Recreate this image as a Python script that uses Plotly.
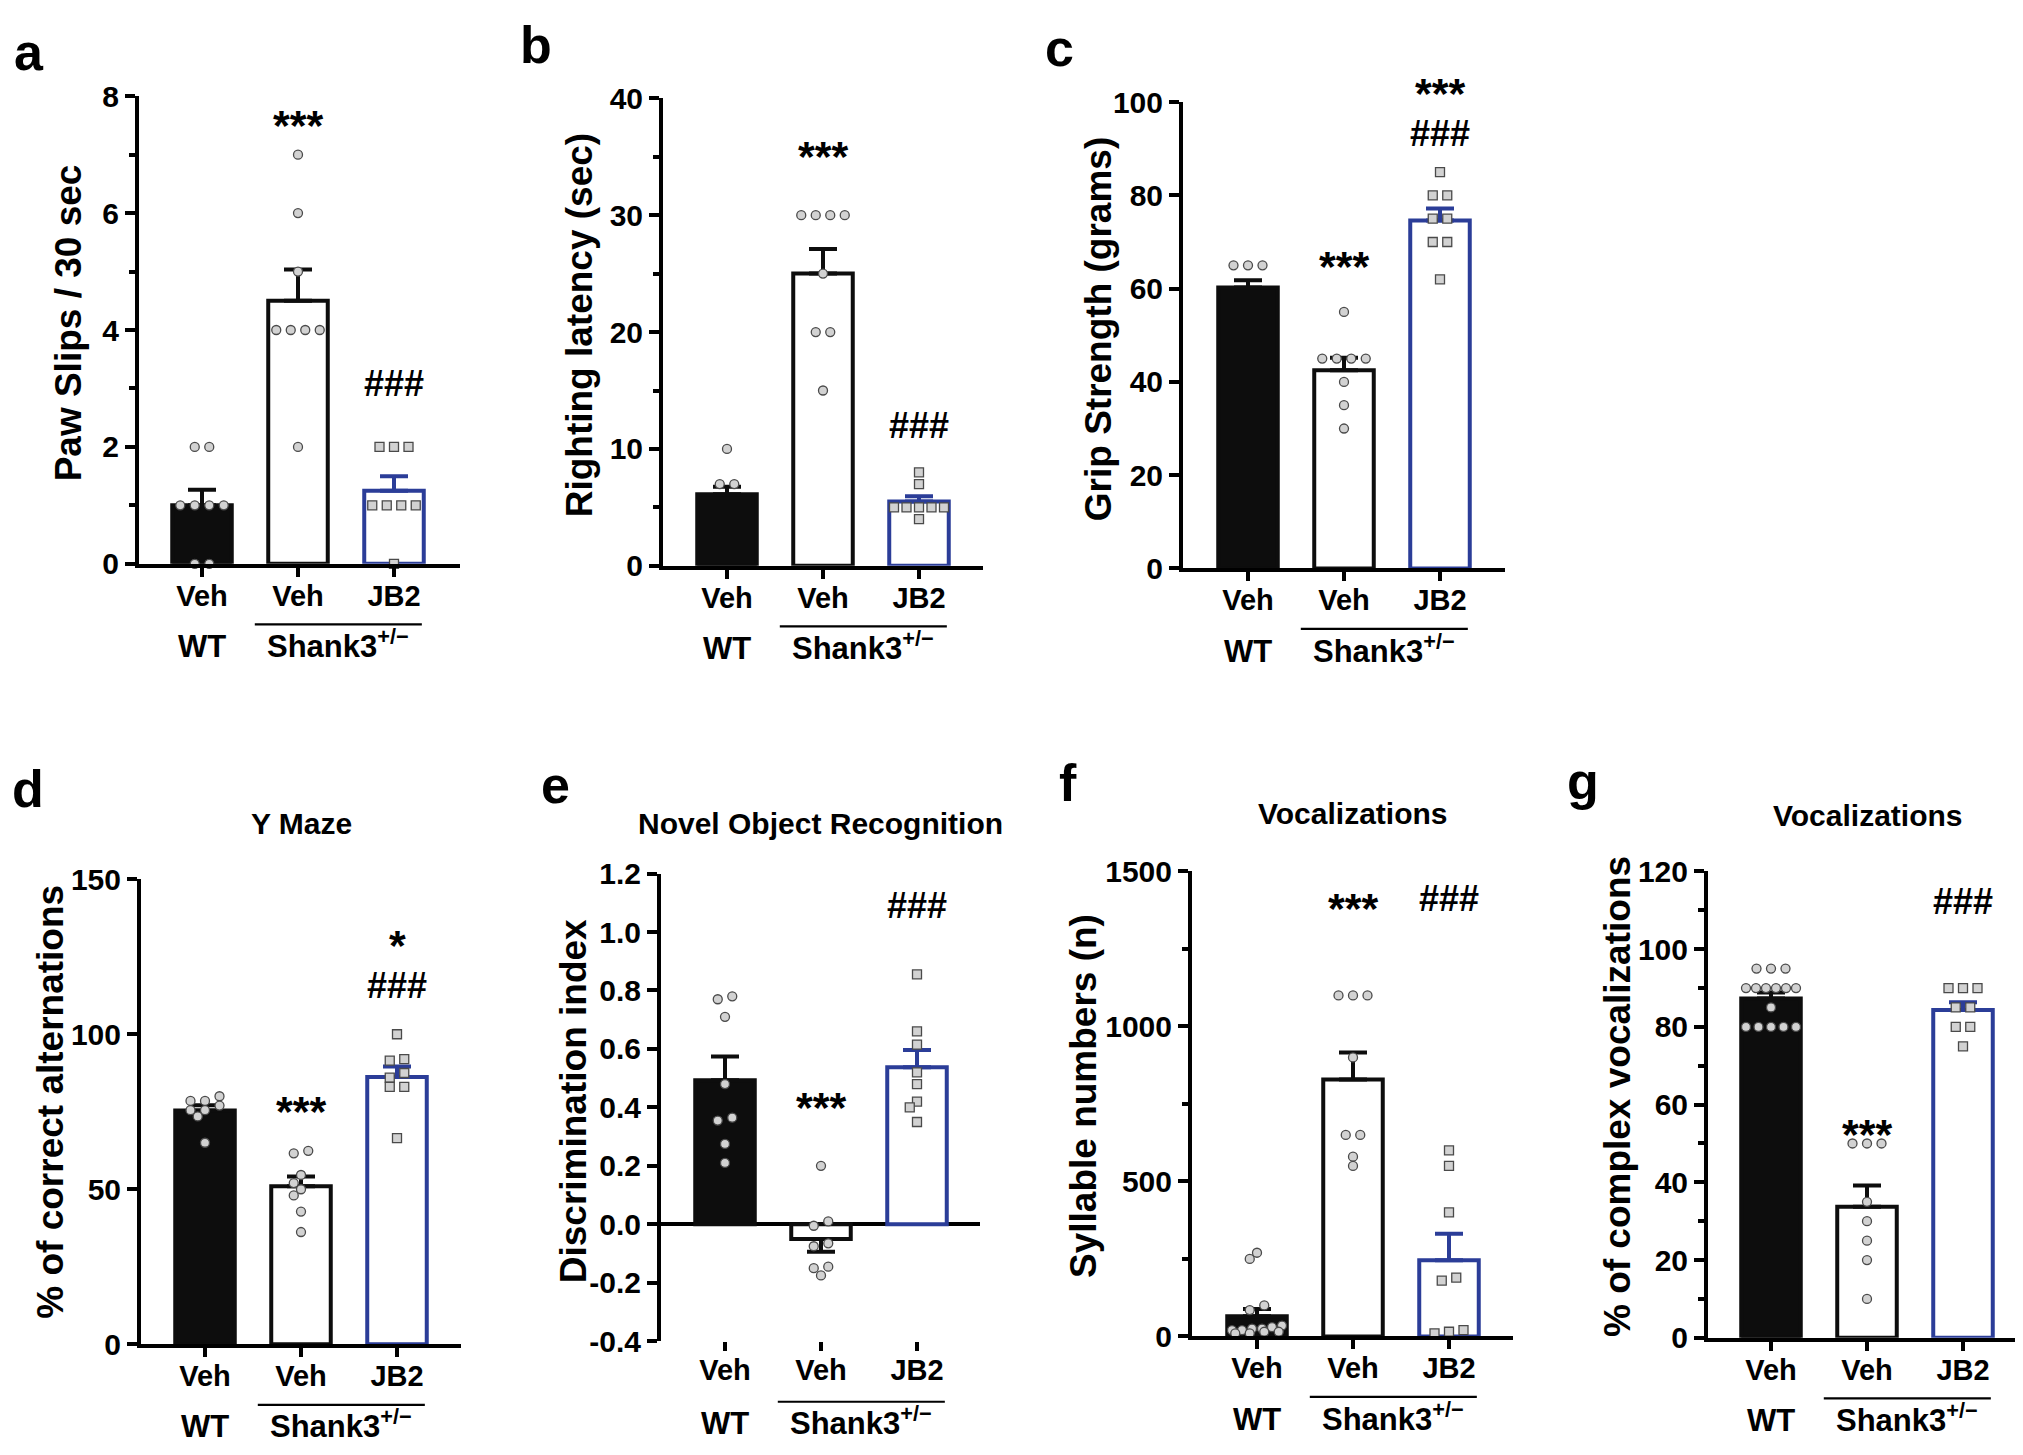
import math
import plotly.graph_objects as go

W, H = 2023, 1455
FONT = "Liberation Sans"
BLUE = "#2b3d98"
BLACK = "#0d0d0d"

# ---------------- data ----------------
categories = ["Veh", "Veh", "JB2"]
group_wt = "WT"
group_mut = "Shank3<sup>+/\u2212</sup>"

a_wt = [2, 2, 1, 1, 1, 1, 0, 0]
a_veh = [7, 6, 5, 4, 4, 4, 4, 2]
a_jb2 = [2, 2, 2, 1, 1, 1, 1, 0]

b_wt = [10, 7, 7, 5, 5, 5, 5, 5]
b_veh = [30, 30, 30, 30, 25, 20, 20, 15]
b_jb2 = [8, 7, 5, 5, 5, 5, 5, 4]

c_wt = [65, 65, 65, 60, 60, 57, 55, 55]
c_veh = [55, 45, 45, 45, 45, 40, 35, 30]
c_jb2 = [85, 80, 80, 75, 75, 70, 70, 62]

d_wt = [80, 78.5, 78.5, 77, 75.5, 75.5, 73.5, 65]
d_veh = [62.4, 61.6, 54.6, 52, 50, 48, 42.8, 36.2]
d_jb2 = [100, 92, 91.5, 87.5, 86, 83, 83, 66.5]

e_wt = [0.78, 0.77, 0.71, 0.48, 0.365, 0.355, 0.275, 0.21]
e_veh = [0.2, 0.01, -0.005, -0.065, -0.075, -0.145, -0.15, -0.175]
e_jb2 = [0.855, 0.66, 0.615, 0.52, 0.48, 0.42, 0.4, 0.35]

f_wt = [270, 250, 100, 85, 35, 30, 25, 25, 20, 20, 15, 15, 10, 10]
f_veh = [1100, 1100, 1100, 900, 650, 650, 580, 550]
f_jb2 = [600, 550, 400, 190, 180, 20, 15, 10]

g_wt = [95, 95, 95, 90, 90, 90, 90, 90, 90, 85, 80, 80, 80, 80, 80]
g_veh = [50, 50, 50, 35, 30, 25, 20, 10]
g_jb2 = [90, 90, 90, 85, 85, 80, 80, 75]

a_yticks = [0, 2, 4, 6, 8]
a_minor = [1, 3, 5, 7]
b_yticks = [0, 10, 20, 30, 40]
b_minor = [5, 15, 25, 35]
c_yticks = [0, 20, 40, 60, 80, 100]
d_yticks = [0, 50, 100, 150]
e_yticks = [-0.4, -0.2, 0, 0.2, 0.4, 0.6, 0.8, 1.0, 1.2]
e_ticktext = ["-0.4", "-0.2", "0.0", "0.2", "0.4", "0.6", "0.8", "1.0", "1.2"]
f_yticks = [0, 500, 1000, 1500]
f_minor = [250, 750, 1250]
g_yticks = [0, 20, 40, 60, 80, 100, 120]
g_minor = [10, 30, 50, 70, 90, 110]

# ---------------- layout config (pixels) ----------------
CAT_PX = 96.0
panels = [
    dict(key="a", groups=(a_wt, a_veh, a_jb2), x0=131, x1=452, c0=194, ytop=72.9, ybot=551.7,
         yr=(0, 8), yticks=a_yticks, ytext=None, minor=a_minor, ytitle="Paw Slips / 30 sec",
         tx=60.5, ty=305, title=None, letter=("a", 21, 45.5),
         stats=[(1, "***", 92), (2, "###", 367.3)], hide_wt=False),
    dict(key="b", groups=(b_wt, b_veh, b_jb2), x0=655, x1=975, c0=719, ytop=75, ybot=553.8,
         yr=(0, 40), yticks=b_yticks, ytext=None, minor=b_minor, ytitle="Righting latency (sec)",
         tx=571.5, ty=308, title=None, letter=("b", 528, 39),
         stats=[(1, "***", 124.5), (2, "###", 410)], hide_wt=True),
    dict(key="c", groups=(c_wt, c_veh, c_jb2), x0=1175, x1=1497, c0=1240, ytop=79, ybot=556.4,
         yr=(0, 100), yticks=c_yticks, ytext=None, minor=None, ytitle="Grip Strength (grams)",
         tx=1090.5, ty=312, title=None, letter=("c", 1051, 41.2),
         stats=[(2, "***", 59.4), (2, "###", 111.5), (1, "***", 237.2)], hide_wt=True),
    dict(key="d", groups=(d_wt, d_veh, d_jb2), x0=133, x1=453, c0=197, ytop=874.7, ybot=1350.8,
         yr=(0, 150), yticks=d_yticks, ytext=None, minor=None, ytitle="% of correct alternations",
         tx=42.5, ty=1103, title=("Y Maze", 293, 817.6), letter=("d", 20, 800.4),
         stats=[(2, "*", 931.7), (2, "###", 983.9), (1, "***", 1101.9)], hide_wt=False),
    dict(key="e", groups=(e_wt, e_veh, e_jb2), x0=653, x1=972, c0=717, ytop=868.9, ybot=1347.7,
         yr=(-0.4, 1.2), yticks=e_yticks, ytext=e_ticktext, minor=None, ytitle="Discrimination index",
         tx=565, ty=1102, title=("Novel Object Recognition", 812, 818), letter=("e", 547, 796),
         stats=[(2, "###", 902), (1, "***", 1097.5)], hide_wt=False),
    dict(key="f", groups=(f_wt, f_veh, f_jb2), x0=1184, x1=1505, c0=1249, ytop=866.7, ybot=1342.8,
         yr=(0, 1500), yticks=f_yticks, ytext=None, minor=f_minor, ytitle="Syllable numbers (n)",
         tx=1076, ty=1096.6, title=("Vocalizations", 1345, 807), letter=("f", 1060, 793.8),
         stats=[(1, "***", 894), (2, "###", 894)], hide_wt=False),
    dict(key="g", groups=(g_wt, g_veh, g_jb2), x0=1700, x1=2020, c0=1763, ytop=866.7, ybot=1344.2,
         yr=(0, 120), yticks=g_yticks, ytext=None, minor=g_minor, ytitle="% of complex vocalizations",
         tx=1609, ty=1097.7, title=("Vocalizations", 1860, 809), letter=("g", 1575, 792),
         stats=[(2, "###", 897.7), (1, "***", 1125.3)], hide_wt=False),
]


def P(px):
    return min(max(px / W, 0.0), 1.0)


def Q(py):
    return 1 - py / H


def mean_sem(v):
    n = len(v)
    m = sum(v) / n
    sd = math.sqrt(sum((x - m) ** 2 for x in v) / (n - 1))
    return m, sd / math.sqrt(n)


def swarm(vals, ppy, d=14.5, mind=8.6, maxw=50.0, rowtol=5.0):
    n = len(vals)
    order = sorted(range(n), key=lambda i: -vals[i])
    rows = []
    for i in order:
        if rows and abs(vals[rows[-1][0]] - vals[i]) * ppy <= rowtol:
            rows[-1].append(i)
        else:
            rows.append([i])
    placed = []
    off = [0.0] * n
    opts = [(1, 0), (2, 0), (1, -0.5), (1, 0.5), (1, -1), (1, 1), (2, -0.5), (2, 0.5), (1, -1.5), (1, 1.5)]
    for row in rows:
        row = sorted(row, key=lambda i: vals[i])
        k = len(row)
        ys = [-vals[i] * ppy for i in row]
        base = min(d, maxw / (k - 1)) if k > 1 else d
        best, bestscore = None, -1
        for idx, (spread, shift) in enumerate(opts):
            c = [(j - (k - 1) / 2) * base * spread + shift * d for j in range(k)]
            if idx > 0 and any(abs(x) > 30 for x in c):
                continue
            md = min((math.hypot(cx - px, cy - py) for cx, cy in zip(c, ys) for px, py in placed), default=1e9)
            if md >= mind:
                best = c
                break
            if md > bestscore:
                bestscore, best = md, c
        for i, cx, cy in zip(row, best, ys):
            off[i] = cx
            placed.append((cx, cy))
    return off


fig = go.Figure()
layout = dict(width=W, height=H, autosize=False, margin=dict(l=0, r=0, t=0, b=0, pad=0),
              paper_bgcolor="white", plot_bgcolor="white", barmode="overlay", showlegend=False)
annotations = []
shapes = []

bar_fill = [BLACK, "white", "white"]
bar_line = [BLACK, BLACK, BLUE]
err_col = [BLACK, BLACK, BLUE]
symbols = ["circle", "circle", "square"]
LW = 4

for n, p in enumerate(panels, start=1):
    xs = "" if n == 1 else str(n)
    xa, ya = "x" + xs, "y" + xs
    ymin, ymax = p["yr"]
    ppy = (p["ybot"] - p["ytop"]) / (ymax - ymin)
    x1 = min(p["x1"], W)
    xr = [(p["x0"] - p["c0"]) / CAT_PX, (x1 - p["c0"]) / CAT_PX]

    for gi, vals in enumerate(p["groups"]):
        m, s = mean_sem(vals)
        pos = m >= 0
        fig.add_trace(go.Bar(
            x=[gi], y=[m], width=0.62, xaxis=xa, yaxis=ya, cliponaxis=False,
            marker=dict(color=bar_fill[gi], line=dict(color=bar_line[gi], width=LW)),
            error_y=dict(type="data", symmetric=False, array=[s if pos else 0],
                         arrayminus=[0 if pos else s], color=err_col[gi], thickness=LW, width=14),
        ))
        offs = swarm(vals, ppy)
        px_, py_ = [], []
        for v, o in zip(vals, offs):
            if gi == 0 and p["hide_wt"] and v <= m:
                continue
            px_.append(gi + o / CAT_PX)
            py_.append(v)
        fig.add_trace(go.Scatter(
            x=px_, y=py_, mode="markers", xaxis=xa, yaxis=ya, cliponaxis=False,
            marker=dict(symbol=symbols[gi], size=9, color="#d2d2d2",
                        line=dict(color="#4a4a4a", width=1.3)),
        ))

    is_e = p["key"] == "e"
    layout["xaxis" + xs] = dict(
        domain=[P(p["x0"]), P(x1)], range=xr, anchor=ya,
        showline=not is_e, linewidth=LW, linecolor="black",
        tickmode="array", tickvals=[0, 1, 2], ticktext=categories,
        ticks="outside", ticklen=9, tickwidth=LW, tickcolor="black", ticklabelstandoff=-6,
        tickfont=dict(family=FONT, size=29, color="black", weight="bold"),
        showgrid=False, zeroline=False, fixedrange=True,
    )
    ytext = p["ytext"] if p["ytext"] else [str(t) for t in p["yticks"]]
    yax = dict(
        domain=[Q(p["ybot"]), Q(p["ytop"])], range=[ymin, ymax], anchor=xa,
        showline=True, linewidth=LW, linecolor="black",
        tickmode="array", tickvals=p["yticks"], ticktext=ytext,
        ticks="outside", ticklen=10, tickwidth=LW, tickcolor="black",
        tickfont=dict(family=FONT, size=30, color="black", weight="bold"),
        showgrid=False, zeroline=is_e, zerolinecolor="black", zerolinewidth=LW,
        fixedrange=True,
    )
    if p["minor"]:
        yax["minor"] = dict(tickmode="array", tickvals=p["minor"], ticks="outside",
                            ticklen=6, tickwidth=LW, tickcolor="black", showgrid=False)
    layout["yaxis" + xs] = yax

    # y title
    annotations.append(dict(text="<b>%s</b>" % p["ytitle"], x=P(p["tx"]), y=Q(p["ty"]),
                            xref="paper", yref="paper", textangle=-90, showarrow=False,
                            xanchor="center", yanchor="middle",
                            font=dict(family=FONT, size=37, color="black")))
    # panel letter
    L, lx, lb = p["letter"]
    annotations.append(dict(text="<b>%s</b>" % L, x=P(lx), y=Q(lb - 0.3465 * 52),
                            xref="paper", yref="paper", showarrow=False,
                            xanchor="center", yanchor="middle",
                            font=dict(family=FONT, size=52, color="black")))
    # title
    if p["title"]:
        t, cx, cy = p["title"]
        annotations.append(dict(text="<b>%s</b>" % t, x=P(cx), y=Q(cy), xref="paper", yref="paper",
                                showarrow=False, xanchor="center", yanchor="middle",
                                font=dict(family=FONT, size=30, color="black")))
    # significance marks
    for gi, txt, cy in p["stats"]:
        if "*" in txt:
            fs, shift = 43, 0.23 * 43
        else:
            fs, shift = 36, 0
        annotations.append(dict(text="<b>%s</b>" % txt, x=gi, y=Q(cy + shift), xref=xa, yref="paper",
                                showarrow=False, xanchor="center", yanchor="middle",
                                font=dict(family=FONT, size=fs, color="black")))
    # group labels
    bot = p["ybot"]
    base = bot + 97
    for gx, txt in ((0, group_wt), (1.42, group_mut)):
        annotations.append(dict(text="<b>%s</b>" % txt, x=gx, y=Q(base + 0.212 * 31 + 1),
                                xref=xa, yref="paper", showarrow=False,
                                xanchor="center", yanchor="bottom",
                                font=dict(family=FONT, size=31, color="black")))
    shapes.append(dict(type="line", xref=xa, yref="paper", x0=0.55, x1=2.29,
                       y0=Q(bot + 62), y1=Q(bot + 62), line=dict(color="black", width=2.2)))

layout["annotations"] = annotations
layout["shapes"] = shapes
fig.update_layout(**layout)
fig.write_html("out.html")
